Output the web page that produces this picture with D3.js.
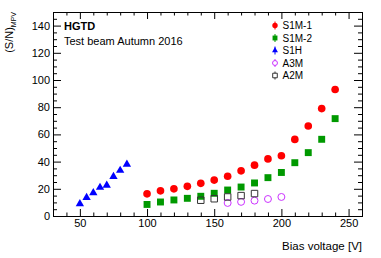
<!DOCTYPE html>
<html lang="en">
<head>
    <meta charset="UTF-8">
    <title>HGTD S/N vs bias voltage</title>
    <script src="https://cdn.jsdelivr.net/npm/d3@7"></script>
    <style>
        body { margin: 0; background: #fff; }
        text { font-family: "Liberation Sans", Arial, sans-serif; }
    </style>
</head>
<body>
<script>
    const w = 381
    const h = 258
    const m = {top: 12, right: 19, bottom: 42, left: 53}

    //Data
    const s1m1V = [100, 110, 120, 130, 140, 150, 160, 170, 180, 190, 200, 210, 220, 230, 240]
    const s1m1SN = [16.3, 18.5, 20, 21.8, 24, 26.4, 29.2, 33.2, 37.4, 42, 44.3, 56.3, 66.2, 79, 93]
    const s1m2V = [100, 110, 120, 130, 140, 150, 160, 170, 180, 190, 200, 210, 220, 230, 240]
    const s1m2SN = [8.5, 10.3, 11.8, 13, 14.5, 16.7, 19.1, 21.3, 24.3, 28.2, 32, 39.2, 46.6, 56.4, 71.6]
    const s1hV = [50, 55, 60, 65, 70, 75, 80, 85]
    const s1hSN = [9, 13.5, 17, 21, 22.5, 29, 33.5, 38]
    const a3mV = [160, 170, 180, 190, 200]
    const a3mSN = [9.6, 10.4, 11.3, 12.5, 14]
    const a2mV = [140, 150, 160, 170, 180]
    const a2mSN = [11.6, 12.7, 14, 15, 16.5]

    const xTicks = [50, 100, 150, 200, 250]
    const yTicks = [0, 20, 40, 60, 80, 100, 120, 140]

    const series = [
        {name: "S1M-1", v: s1m1V, sn: s1m1SN, shape: d3.symbolCircle, size: 46, color: "#ff0000", open: false},
        {name: "S1M-2", v: s1m2V, sn: s1m2SN, shape: d3.symbolSquare, size: 48, color: "#009900", open: false},
        {name: "S1H", v: s1hV, sn: s1hSN, shape: d3.symbolTriangle, size: 30, color: "#0000ff", open: false},
        {name: "A3M", v: a3mV, sn: a3mSN, shape: d3.symbolCircle, size: 38, color: "#cc33ff", open: true},
        {name: "A2M", v: a2mV, sn: a2mSN, shape: d3.symbolSquare, size: 42, color: "#333333", open: true}
    ]

    const svg = d3.select("body").append("svg")
        .attr("width", w)
        .attr("height", h)

    const x = d3.scaleLinear().domain([30, 260]).range([m.left, w - m.right])
    const y = d3.scaleLinear().domain([0, 150]).range([h - m.bottom, m.top])

    const xMinor = d3.range(30, 261, 10).filter(d => !xTicks.includes(d))
    const yMinor = d3.range(0, 151, 5).filter(d => !yTicks.includes(d))

    //Axes, ROOT style: ticks inward on all four sides
    function axis(gen, ticks, size, tx, ty, labels) {
        const g = svg.append("g")
            .attr("transform", `translate(${tx},${ty})`)
            .call(gen.tickValues(ticks).tickSize(size).tickPadding(3)
                .tickFormat(labels ? d3.format("d") : ""))
        g.select(".domain").remove()
        g.selectAll("text").attr("font-size", "11px").attr("fill", "#000")
        return g
    }

    axis(d3.axisBottom(x), xTicks, -7, 0, h - m.bottom, true)
    axis(d3.axisBottom(x), xMinor, -3.5, 0, h - m.bottom, false)
    axis(d3.axisTop(x), xTicks, -7, 0, m.top, false)
    axis(d3.axisTop(x), xMinor, -3.5, 0, m.top, false)
    axis(d3.axisLeft(y), yTicks, -8, m.left, 0, true)
    axis(d3.axisLeft(y), yMinor, -4, m.left, 0, false)
    axis(d3.axisRight(y), yTicks, -8, w - m.right, 0, false)
    axis(d3.axisRight(y), yMinor, -4, w - m.right, 0, false)

    svg.append("rect")
        .attr("x", m.left + 0.5)
        .attr("y", m.top + 0.5)
        .attr("width", w - m.left - m.right)
        .attr("height", h - m.top - m.bottom)
        .attr("fill", "none")
        .attr("stroke", "#000")

    //Points
    series.forEach(s => {
        const sym = d3.symbol().type(s.shape).size(s.size)
        svg.append("g").selectAll("path")
            .data(s.v.map((v, i) => ({v: v, sn: s.sn[i]})))
            .enter()
            .append("path")
            .attr("d", sym)
            .attr("transform", d => `translate(${x(d.v)},${y(d.sn)})`)
            .attr("fill", s.open ? "none" : s.color)
            .attr("stroke", s.color)
            .attr("stroke-width", s.open ? 1 : 0)
    })

    //Legend
    const legend = svg.append("g").attr("id", "legend")
    series.forEach((s, i) => {
        const ly = 25.5 + i * 12.5
        legend.append("line")
            .attr("x1", 275).attr("x2", 275)
            .attr("y1", ly - 4).attr("y2", ly + 4)
            .attr("stroke", s.color)
        legend.append("path")
            .attr("d", d3.symbol().type(s.shape).size(s.size * 0.5))
            .attr("transform", `translate(275,${ly})`)
            .attr("fill", s.open ? "#fff" : s.color)
            .attr("stroke", s.color)
            .attr("stroke-width", s.open ? 1 : 0)
        legend.append("text")
            .attr("x", 282.5)
            .attr("y", ly + 3.5)
            .attr("font-size", "10px")
            .text(s.name)
    })

    //Labels
    svg.append("text")
        .attr("x", 64)
        .attr("y", 30)
        .attr("font-size", "11px")
        .attr("font-weight", "bold")
        .text("HGTD")

    svg.append("text")
        .attr("x", 64)
        .attr("y", 45)
        .attr("font-size", "11px")
        .text("Test beam Autumn 2016")

    svg.append("text")
        .attr("x", w - m.right)
        .attr("y", 250)
        .attr("text-anchor", "end")
        .attr("font-size", "11.5px")
        .text("Bias voltage [V]")

    const yTitle = svg.append("text")
        .attr("transform", "translate(12.5,12) rotate(-90)")
        .attr("text-anchor", "end")
        .attr("font-size", "11px")
    yTitle.append("tspan").text("(S/N)")
    yTitle.append("tspan").attr("font-size", "7px").attr("dy", "3").text("MPV")
</script>
</body>
</html>
